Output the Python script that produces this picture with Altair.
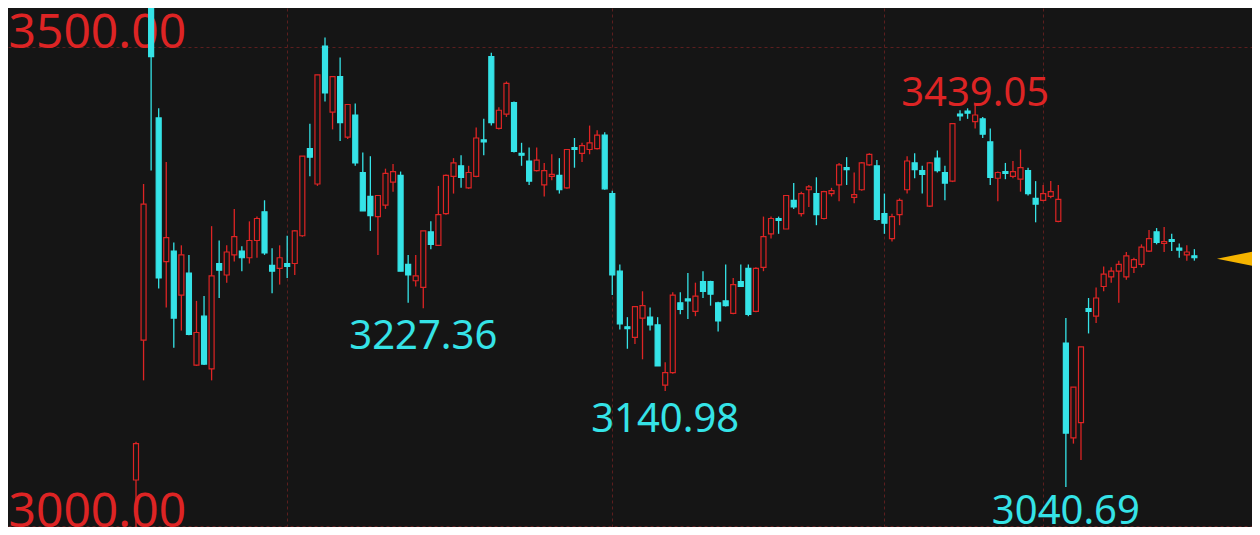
import altair as alt
import pandas as pd
import numpy as np

# ---- daily OHLC values (index points) ----
opens = [3048, 3194, 3674, 3426, 3276, 3287, 3241, 3264, 3168, 3219,
         3164, 3274, 3262, 3283, 3287, 3280, 3298, 3328, 3272, 3269,
         3274, 3274, 3303, 3394, 3357, 3501, 3432, 3469, 3406, 3429,
         3369, 3344, 3323, 3335, 3359, 3366, 3273, 3256, 3249, 3307,
         3293, 3326, 3365, 3376, 3353, 3365, 3403, 3490, 3415, 3430,
         3442, 3389, 3381, 3371, 3356, 3365, 3366, 3353, 3395, 3389,
         3393, 3394, 3408, 3347, 3266, 3208, 3197, 3217, 3218, 3210,
         3147, 3160, 3233, 3237, 3224, 3255, 3255, 3233, 3235, 3222,
         3255, 3269, 3224, 3270, 3305, 3321, 3310, 3340, 3326, 3351,
         3347, 3321, 3347, 3356, 3374, 3343, 3351, 3377, 3376, 3326,
         3300, 3325, 3351, 3379, 3371, 3334, 3384, 3369, 3360, 3430,
         3433, 3422, 3425, 3401, 3363, 3370, 3365, 3362, 3371, 3342,
         3340, 3344, 3318, 3191, 3092, 3108, 3227, 3219, 3250, 3260,
         3266, 3260, 3270, 3273, 3287, 3307, 3295, 3299, 3290, 3283,
         3282]
highs = [3088, 3357, 3674, 3436, 3380, 3296, 3293, 3283, 3235, 3240,
         3313, 3298, 3293, 3331, 3292, 3318, 3323, 3340, 3290, 3293,
         3303, 3309, 3386, 3420, 3471, 3510, 3469, 3489, 3440, 3441,
         3390, 3386, 3345, 3373, 3378, 3370, 3283, 3283, 3308, 3318,
         3355, 3367, 3384, 3387, 3376, 3416, 3425, 3494, 3437, 3464,
         3443, 3400, 3395, 3395, 3379, 3388, 3384, 3393, 3405, 3400,
         3418, 3413, 3411, 3350, 3273, 3218, 3229, 3245, 3228, 3218,
         3171, 3244, 3244, 3264, 3254, 3266, 3256, 3234, 3273, 3259,
         3273, 3273, 3270, 3323, 3323, 3323, 3345, 3358, 3349, 3356,
         3364, 3350, 3353, 3379, 3385, 3369, 3380, 3389, 3382, 3347,
         3326, 3342, 3386, 3389, 3376, 3380, 3392, 3376, 3420, 3434,
         3436, 3439.05, 3427, 3415, 3370, 3379, 3381, 3393, 3374, 3360,
         3356, 3360, 3356, 3217, 3145, 3187, 3238, 3249, 3271, 3270,
         3277, 3286, 3280, 3294, 3309, 3311, 3312, 3305, 3295, 3293,
         3289]
lows = [2997, 3152, 3371, 3248, 3228, 3186, 3204, 3199, 3167, 3168,
        3152, 3238, 3254, 3276, 3266, 3274, 3280, 3283, 3243, 3252,
        3259, 3262, 3302, 3365, 3355, 3443, 3414, 3402, 3404, 3376,
        3329, 3308, 3283, 3331, 3349, 3266, 3233, 3250, 3227.36, 3289,
        3293, 3325, 3347, 3353, 3352, 3364, 3387, 3418, 3414, 3427,
        3390, 3376, 3356, 3370, 3344, 3361, 3347, 3352, 3374, 3380,
        3388, 3393, 3351, 3241, 3205, 3185, 3190, 3174, 3204, 3167,
        3140.98, 3159, 3221, 3216, 3219, 3238, 3230, 3203, 3229, 3221,
        3250, 3219, 3223, 3266, 3300, 3305, 3310, 3331, 3323, 3333,
        3314, 3320, 3344, 3339, 3356, 3337, 3350, 3376, 3319, 3305,
        3297, 3314, 3347, 3363, 3347, 3333, 3369, 3340, 3359, 3423,
        3425, 3415, 3405, 3356, 3339, 3362, 3363, 3349, 3345, 3317,
        3339, 3342, 3317, 3040.69, 3086, 3069, 3201, 3212, 3245, 3254,
        3233, 3257, 3264, 3270, 3286, 3294, 3286, 3287, 3280, 3277,
        3277]
closes = [3086, 3336, 3490, 3259, 3301, 3217, 3283, 3200, 3202, 3169,
          3261, 3267, 3286, 3302, 3280, 3298, 3321, 3285, 3266, 3280,
          3271, 3308, 3386, 3385, 3471, 3452, 3469, 3421, 3440, 3379,
          3329, 3324, 3345, 3368, 3370, 3266, 3262, 3261, 3308, 3294,
          3325, 3366, 3379, 3364, 3369, 3405, 3401, 3421, 3434, 3462,
          3391, 3387, 3360, 3382, 3371, 3367, 3351, 3393, 3393, 3397,
          3400, 3408, 3352, 3262, 3211, 3206, 3229, 3230, 3210, 3167,
          3160, 3241, 3226, 3235, 3240, 3245, 3242, 3214, 3230, 3252,
          3250, 3221, 3269, 3302, 3321, 3319, 3345, 3333, 3347, 3354,
          3325, 3349, 3350, 3377, 3372, 3346, 3379, 3388, 3320, 3316,
          3323, 3340, 3381, 3372, 3367, 3379, 3371, 3358, 3420, 3428,
          3431, 3429, 3409, 3364, 3369, 3368, 3370, 3374, 3347, 3336,
          3347, 3349, 3341, 3097, 3145, 3187, 3224, 3238, 3263, 3266,
          3273, 3282, 3278, 3291, 3300, 3296, 3297, 3297, 3288, 3286,
          3280]

month_starts = [20, 63, 99, 120]          # candles where the dashed month lines fall
axis_levels = [3000, 3500]                # labelled price levels
ann_idx = [38, 70, 111, 123]              # candles carrying the extreme labels
ann_kind = ["low", "low", "high", "lowest"]
marker_idx = [145.5]                      # current-price pointer
marker_price = [3279]

BG = "#151515"
RED = "#dd2424"
CYAN = "#35e3e7"
GRID = "#5c1e1e"
ARROW = "#f5b400"

o = np.array(opens, float)
c = np.array(closes, float)
df = pd.DataFrame({
    "i": np.arange(len(opens)),
    "open": o, "high": highs, "low": lows, "close": c,
})
df["dir"] = np.where(c >= o, "up", "down")
df["top"] = np.maximum(o, c)
df["bot"] = np.minimum(o, c)

ann_vals = [highs[k] if kind == "high" else lows[k] for k, kind in zip(ann_idx, ann_kind)]
ann = pd.DataFrame({
    "i": ann_idx,
    "v": ann_vals,
    "label": [f"{v:.2f}" for v in ann_vals],
    "kind": ann_kind,
})
mk = pd.DataFrame({"i": marker_idx, "v": marker_price})

W, H = 1244, 519
xs = alt.Scale(domain=[-16.271, 146.96], nice=False, zero=False)
ys = alt.Scale(domain=[2998.96, 3540.71], nice=False, zero=False)
line_scale = alt.Scale(domain=["up", "down"], range=[RED, CYAN])
fill_scale = alt.Scale(domain=["up", "down"], range=[BG, CYAN])

x_axis = alt.Axis(values=month_starts, grid=True, gridDash=[3, 3], gridColor=GRID,
                  gridWidth=1, labels=False, ticks=False, domain=False, title=None)
y_axis = alt.Axis(values=axis_levels, format=".2f", orient="left", grid=True,
                  gridDash=[3, 3], gridColor=GRID, gridWidth=1, ticks=False, tickSize=0,
                  domain=False, title=None, labelAlign="left", labelBaseline="alphabetic",
                  labelPadding=0, labelFontSize=48, labelFont="Noto Sans",
                  labelColor=RED, labelFlush=False, labelOverlap=False)

base = alt.Chart(df)
wick = base.mark_rule(strokeWidth=1.3, clip=True).encode(
    x=alt.X("i:Q", scale=xs, axis=x_axis),
    y=alt.Y("low:Q", scale=ys, axis=y_axis),
    y2="high:Q",
    color=alt.Color("dir:N", scale=line_scale, legend=None),
)
body = base.mark_bar(width=5, strokeWidth=1.2, clip=True, fillOpacity=1).encode(
    x=alt.X("i:Q", scale=xs),
    y=alt.Y("bot:Q", scale=ys),
    y2="top:Q",
    fill=alt.Fill("dir:N", scale=fill_scale, legend=None),
    stroke=alt.Stroke("dir:N", scale=line_scale, legend=None),
)


def label_layer(kind, color, dy):
    return alt.Chart(ann).transform_filter(alt.datum.kind == kind).mark_text(
        font="Noto Sans", fontSize=40, color=color, align="center",
        baseline="alphabetic", dy=dy).encode(
        x=alt.X("i:Q", scale=xs), y=alt.Y("v:Q", scale=ys), text="label:N")


low_lbl = label_layer("low", CYAN, 41)
lowest_lbl = label_layer("lowest", CYAN, 37)
high_lbl = label_layer("high", RED, 1)
arrow = alt.Chart(mk).mark_point(
    shape="M -1 0 L 1 -0.4 L 1 0.4 Z", size=1444, filled=True,
    color=ARROW, opacity=1, strokeWidth=0).encode(
    x=alt.X("i:Q", scale=xs), y=alt.Y("v:Q", scale=ys))

chart = alt.layer(wick, body, low_lbl, lowest_lbl, high_lbl, arrow).properties(
    width=W, height=H, background=BG, padding=0,
    autosize=alt.AutoSizeParams(type="none"),
).configure_view(strokeWidth=0)

chart.save("out.html", embed_options={"renderer": "svg", "actions": False})
